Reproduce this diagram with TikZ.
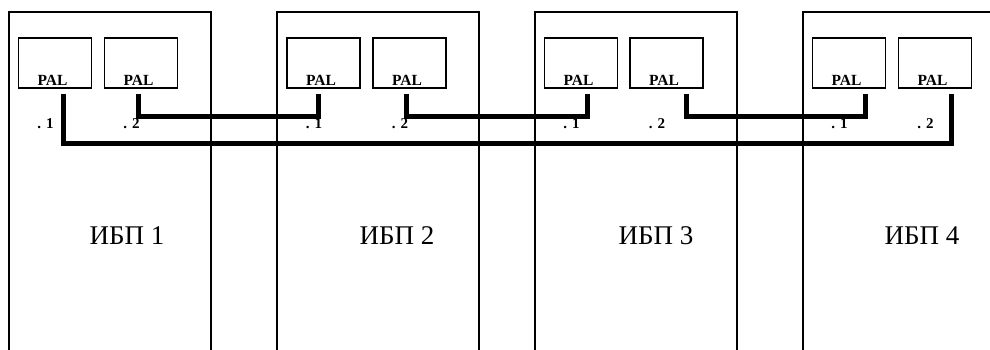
\documentclass[tikz,border=0pt]{standalone}
\usepackage{fontspec}
\setmainfont{Liberation Serif}
\usetikzlibrary{calc}
\tikzset{
  unitline/.style={line width=1.3pt, line cap=rect},
  palbox/.style={draw, line width=1.3pt, minimum width=73pt, minimum height=50pt, inner sep=0pt},
  paltext/.style={font=\fontsize{15.5}{15.5}\selectfont\bfseries, anchor=base, inner sep=0pt},
  portlabel/.style={font=\fontsize{15}{15}\selectfont\bfseries, anchor=base, inner sep=0pt},
  upslabel/.style={font=\fontsize{27}{27}\selectfont, anchor=base, inner sep=0pt},
  bus/.style={line width=5pt, line join=miter, line cap=butt}
}
\begin{document}
\begin{tikzpicture}[x=1pt,y=-1pt]
\useasboundingbox (0,0) rectangle (990,349);
% outer unit boxes (open at bottom)
\draw[unitline] (9,352) -- (9,12) -- (211,12) -- (211,352);
\draw[unitline] (277,352) -- (277,12) -- (479,12) -- (479,352);
\draw[unitline] (535,352) -- (535,12) -- (737,12) -- (737,352);
\draw[unitline] (803,352) -- (803,12) -- (995,12);
% unit labels
\node[upslabel] (u1) at (127,244) {ИБП 1};
\node[upslabel] (u2) at (397,244) {ИБП 2};
\node[upslabel] (u3) at (656,244) {ИБП 3};
\node[upslabel] (u4) at (922,244) {ИБП 4};
% PAL boxes
\foreach \n/\x in {1a/55,1b/141,2a/323.5,2b/409.5,3a/581,3b/666.5,4a/849,4b/935}{
  \node[palbox] (p\n) at (\x,63) {};
  \node[paltext] (t\n) at ($(p\n.south)+(-2.5,-3)$) {PAL};
}
% port labels
\node[portlabel] (l1a) at ($(p1a.south)+(-9.5,40)$) {. 1};
\node[portlabel] (l1b) at ($(p1b.south)+(-9.5,40)$) {. 2};
\node[portlabel] (l2a) at ($(p2a.south)+(-9.5,40)$) {. 1};
\node[portlabel] (l2b) at ($(p2b.south)+(-9.5,40)$) {. 2};
\node[portlabel] (l3a) at ($(p3a.south)+(-9.5,40)$) {. 1};
\node[portlabel] (l3b) at ($(p3b.south)+(-9.5,40)$) {. 2};
\node[portlabel] (l4a) at ($(p4a.south)+(-9.5,40)$) {. 1};
\node[portlabel] (l4b) at ($(p4b.south)+(-9.5,40)$) {. 2};
% bus connectors
\draw[bus] ($(p1a.south)+(8,5)$) |- ($(p4b.south)+(16,55)$) -- ($(p4b.south)+(16,5)$);
\draw[bus] ($(p1b.south)+(-3,5)$) |- ($(p2a.south)+(-5.5,28)$) -- ($(p2a.south)+(-5.5,5)$);
\draw[bus] ($(p2b.south)+(-3.5,5)$) |- ($(p3a.south)+(6,28)$) -- ($(p3a.south)+(6,5)$);
\draw[bus] ($(p3b.south)+(19.5,5)$) |- ($(p4a.south)+(16,28)$) -- ($(p4a.south)+(16,5)$);
\end{tikzpicture}
\end{document}
